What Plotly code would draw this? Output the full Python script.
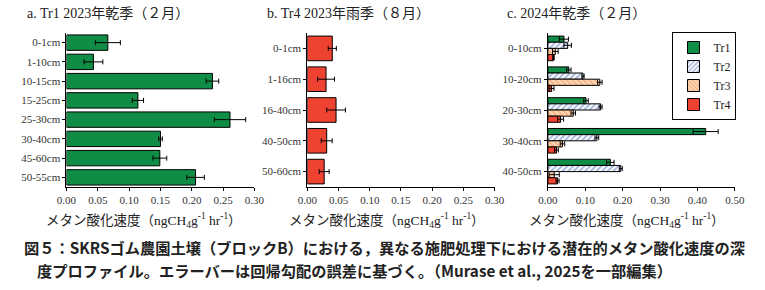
import plotly.graph_objects as go

# ---- data ----
a_depths = ["0-1cm", "1-10cm", "10-15cm", "15-25cm", "25-30cm", "30-40cm", "45-60cm", "50-55cm"]
a_vals = [0.066, 0.043, 0.233, 0.114, 0.261, 0.150, 0.149, 0.206]
a_err = [0.020, 0.015, 0.010, 0.009, 0.025, 0.003, 0.011, 0.014]

b_depths = ["0-1cm", "1-16cm", "16-40cm", "40-50cm", "50-60cm"]
b_vals = [0.040, 0.030, 0.046, 0.031, 0.027]
b_err = [0.0065, 0.0135, 0.015, 0.0088, 0.008]

c_depths = ["0-10cm", "10-20cm", "20-30cm", "30-40cm", "40-50cm"]
c_tr1 = [0.043, 0.056, 0.102, 0.422, 0.167]
c_tr1_err = [0.012, 0.006, 0.006, 0.0335, 0.010]
c_tr2 = [0.053, 0.094, 0.141, 0.131, 0.195]
c_tr2_err = [0.010, 0.003, 0.004, 0.005, 0.004]
c_tr3 = [0.020, 0.139, 0.068, 0.039, 0.017]
c_tr3_err = [0.0075, 0.006, 0.006, 0.006, 0.0135]
c_tr4 = [0.015, 0.010, 0.034, 0.023, 0.026]
c_tr4_err = [0.002, 0.0065, 0.008, 0.005, 0.004]

a_ticks = [0, 0.05, 0.10, 0.15, 0.20, 0.25, 0.30]
a_ticklabels = ["0.00", "0.05", "0.10", "0.15", "0.20", "0.25", "0.30"]
c_ticks = [0, 0.1, 0.2, 0.3, 0.4, 0.5]
c_ticklabels = ["0.00", "0.10", "0.20", "0.30", "0.40", "0.50"]

titles = ["a. Tr1 2023年乾季（２月）", "b. Tr4 2023年雨季（８月）", "c. 2024年乾季（２月）"]
xtitle = "メタン酸化速度（ngCH<sub>4</sub>g<sup>-1</sup> hr<sup>-1</sup>）"
caption1 = "図５：SKRSゴム農園土壌（ブロックB）における，異なる施肥処理下における潜在的メタン酸化速度の深"
caption2 = "度プロファイル。エラーバーは回帰勾配の誤差に基づく。（Murase et al., 2025を一部編集）"

# ---- style ----
W, H = 765, 290
GREEN = "#0f8c45"
RED = "#ee4331"
BLUE = "#3d5fb0"
ORANGE = "#f28a4a"
PEACH = "#fdd9b8"
SERIF = "Liberation Serif, Noto Sans CJK JP"
SANS = "Noto Sans CJK JP"

def px_x(p):
    return p / W

def px_y(p):
    return 1 - p / H

err_style = dict(type="data", color="black", thickness=1, width=2.5)
line_style = dict(color="black", width=1)

fig = go.Figure()

fig.add_trace(go.Bar(y=a_depths, x=a_vals, orientation="h", xaxis="x", yaxis="y",
                     marker=dict(color=GREEN, line=line_style),
                     error_x=dict(array=a_err, **err_style), showlegend=False))
fig.add_trace(go.Bar(y=b_depths, x=b_vals, orientation="h", xaxis="x2", yaxis="y2",
                     marker=dict(color=RED, line=line_style),
                     error_x=dict(array=b_err, **err_style), showlegend=False))

c_series = [
    ("Tr1", c_tr1, c_tr1_err, dict(color=GREEN, line=line_style)),
    ("Tr2", c_tr2, c_tr2_err, dict(color="white", line=line_style,
                                   pattern=dict(shape="/", fgcolor=BLUE, bgcolor="white",
                                                size=4, solidity=0.45))),
    ("Tr3", c_tr3, c_tr3_err, dict(color=PEACH, line=line_style,
                                   pattern=dict(shape="\\", fgcolor=ORANGE, bgcolor=PEACH,
                                                size=4, solidity=0.45))),
    ("Tr4", c_tr4, c_tr4_err, dict(color=RED, line=line_style)),
]
for name, vals, errs, mk in c_series:
    fig.add_trace(go.Bar(y=c_depths, x=vals, name=name, orientation="h",
                         xaxis="x3", yaxis="y3", marker=mk,
                         error_x=dict(array=errs, **err_style)))

ydom = [px_y(187), px_y(33)]
xdoms = [(58, 251), (305.3, 497.7), (552.3, 744.3)]

axis_common = dict(showline=True, linecolor="black", linewidth=1, ticks="outside",
                   ticklen=3, tickcolor="black", showgrid=False, zeroline=False,
                   tickfont=dict(family=SERIF, size=11, color="#333"))

layout = dict(
    width=W, height=H, margin=dict(l=0, r=0, t=0, b=0),
    paper_bgcolor="white", plot_bgcolor="white",
    barmode="group", bargap=0.2, bargroupgap=0,
    showlegend=True,
    legend=dict(x=px_x(746), y=px_y(32), xanchor="right", yanchor="top",
                bordercolor="black", borderwidth=1, bgcolor="white",
                font=dict(family=SERIF, size=12, color="#222"),
                tracegroupgap=0, itemwidth=30),
)
for i, (x0, x1) in enumerate(xdoms):
    sfx = "" if i == 0 else str(i + 1)
    rng = [0, 0.5] if i == 2 else [0, 0.30]
    tv, tt = (c_ticks, c_ticklabels) if i == 2 else (a_ticks, a_ticklabels)
    cats = [a_depths, b_depths, c_depths][i]
    layout["xaxis" + sfx] = dict(domain=[px_x(x0), px_x(x1)], range=rng, anchor="y" + sfx,
                                 tickvals=tv, ticktext=tt, **axis_common)
    layout["yaxis" + sfx] = dict(domain=ydom, anchor="x" + sfx, type="category",
                                 categoryorder="array", categoryarray=cats,
                                 range=[len(cats) - 0.5, -0.5], **axis_common)
fig.update_layout(**layout)

anns = []
title_x = [15, 262, 508]
xtitle_c = [138, 387, 634]
for i in range(3):
    anns.append(dict(text=titles[i], x=px_x(title_x[i]), y=px_y(14), xref="paper", yref="paper",
                     xanchor="left", yanchor="middle", showarrow=False,
                     font=dict(family=SERIF, size=14, color="#222")))
    anns.append(dict(text=xtitle, x=px_x(xtitle_c[i]), y=px_y(220), xref="paper", yref="paper",
                     xanchor="center", yanchor="middle", showarrow=False,
                     font=dict(family=SERIF, size=13.5, color="#222")))
anns.append(dict(text="<b>" + caption1 + "</b>", x=px_x(12), y=px_y(247), xref="paper", yref="paper",
                 xanchor="left", yanchor="middle", showarrow=False,
                 font=dict(family=SANS, size=15.25, color="#222")))
anns.append(dict(text="<b>" + caption2 + "</b>", x=px_x(26), y=px_y(270), xref="paper", yref="paper",
                 xanchor="left", yanchor="middle", showarrow=False,
                 font=dict(family=SANS, size=15.25, color="#222")))
fig.update_layout(annotations=anns)

fig.write_html("out.html")
